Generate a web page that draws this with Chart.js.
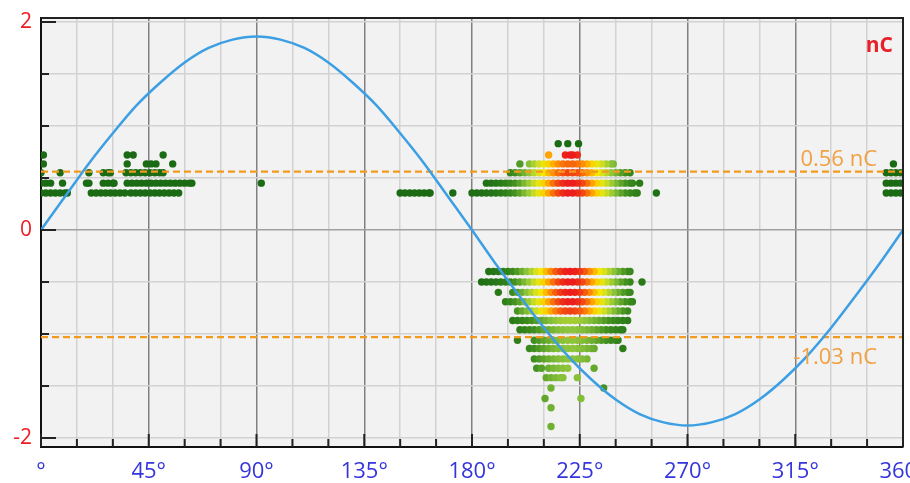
<!DOCTYPE html>
<html>
<head>
<meta charset="utf-8">
<script src="https://cdn.jsdelivr.net/npm/chart.js@4.4.1/dist/chart.umd.min.js"></script>
<style>
html,body{margin:0;padding:0;background:#fff;}
#wrap{width:910px;height:483px;}
</style>
</head>
<body>
<div id="wrap"><canvas id="prpd" width="910" height="483"></canvas></div>
<script>
// phase axis (deg)
var phaseTicks=[0,15,30,45,60,75,90,105,120,135,150,165,180,195,210,225,240,255,270,285,300,315,330,345,360];
var phaseLabels={0:'°',45:'45°',90:'90°',135:'135°',180:'180°',225:'225°',270:'270°',315:'315°',360:'360°'};
// charge axis (nC)
var chargeTicks=[-2,-1.5,-1,-0.5,0,0.5,1,1.5,2];
var chargeLabels={'2':'2','0':'0','-2':'-2'};

// reference voltage curve, read every 10 deg
var sinePhase=[0,10,20,30,40,50,60,70,80,90,100,110,120,130,140,150,160,170,180,
  190,200,210,220,230,240,250,260,270,280,290,300,310,320,330,340,350,360];
var sineCharge=[0,0.32,0.64,0.93,1.20,1.42,1.61,1.75,1.83,1.86,1.83,1.75,1.61,1.42,1.20,0.93,0.64,0.32,0,
  -0.33,-0.64,-0.94,-1.21,-1.44,-1.63,-1.77,-1.85,-1.88,-1.85,-1.77,-1.63,-1.44,-1.21,-0.94,-0.64,-0.33,0];

// threshold levels
var thresholds=[0.56,-1.03];
var thresholdLabels=['0.56 nC','-1.03 nC'];

// pulse rows: charge level, phase runs [from,to], peak density 0..1
var rowLevels=[0.83,0.72,0.635,0.55,0.45,0.355,
  -0.40,-0.50,-0.60,-0.69,-0.78,-0.87,-0.96,-1.06,-1.14,-1.24,-1.33,-1.42,-1.52,-1.62,-1.71,-1.89];
var rowRuns=[
  [[216,216],[220,220],[224.5,224.5]],
  [[1,1],[36,36],[38.5,38.5],[51,51],[212,212],[219,222],[224,224]],
  [[1,1],[36,36],[44,48],[55,55],[200,200],[204,239],[356,356]],
  [[0,0],[8,8],[20,20],[26,29],[35.5,51],[196,246],[353,359]],
  [[0,4],[9,9],[19,20],[26,30.5],[36,63],[92,92],[186,247],[250,250],[353,359]],
  [[0,11],[21,35],[37.5,57.5],[150,162.5],[172,172],[180,249],[257,257],[353,359]],
  [[187,246]],
  [[184,246],[251,251]],
  [[191,191],[197,246]],
  [[194,247]],
  [[199,245]],
  [[197,245]],
  [[200,243]],
  [[199,199],[206,241]],
  [[204,231],[243,243]],
  [[206,228]],
  [[207,209],[212,220],[231,231]],
  [[211,218],[224,224]],
  [[213,213],[235,235]],
  [[210.5,210.5],[225.5,225.5]],
  [[213,213]],
  [[213,213]]
];
var rowPeak=[0,1,0.9,0.95,1,1, 1,1,1,1,0.95,0.5,0.45,0.45,0.45,0.45,0.45,0.45,0.45,0.45,0.45,0.45];

// density colour scale
var heatStops=[[0,[27,107,20]],[0.25,[60,140,30]],[0.45,[140,196,58]],[0.6,[212,224,33]],
  [0.7,[245,232,0]],[0.82,[255,162,0]],[1,[236,28,28]]];
function heatColor(h){
  for(var i=1;i<heatStops.length;i++){
    if(h<=heatStops[i][0]){
      var a=heatStops[i-1],b=heatStops[i],t=(h-a[0])/(b[0]-a[0]);
      var c=a[1].map(function(v,j){return Math.round(v+(b[1][j]-v)*t);});
      return 'rgb('+c.join(',')+')';
    }
  }
  return 'rgb(236,28,28)';
}

function mkPulse(p,r){
  var h=rowPeak[r]*Math.exp(-Math.pow((p-221)/20,2));
  return {x:p,y:rowLevels[r],h:h};
}
var pulses=[];
for(var r=0;r<rowLevels.length;r++){
  for(var k=0;k<rowRuns[r].length;k++){
    var a=rowRuns[r][k][0],b=rowRuns[r][k][1];
    for(var p=a;p<b;p+=2) pulses.push(mkPulse(p,r));
    pulses.push(mkPulse(b,r));
  }
}
pulses.sort(function(u,v){return u.h-v.h;});

var sineData=sinePhase.map(function(p,i){return {x:p,y:sineCharge[i]};});

var datasets=[{
  label:'sine',data:sineData,showLine:true,pointRadius:0,borderColor:'#3d9fe3',borderWidth:2.5,
  cubicInterpolationMode:'monotone',order:0
}];
thresholds.forEach(function(t){
  datasets.push({label:'thr',data:[{x:0,y:t},{x:360,y:t}],showLine:true,pointRadius:0,
    borderColor:'#f39a1e',borderWidth:2.2,borderDash:[7,4],order:1});
});
datasets.push({label:'pulses',data:pulses,pointRadius:3.7,borderWidth:0,order:2,
  backgroundColor:function(ctx){return ctx.raw?heatColor(ctx.raw.h):'#1b6b14';}});

var frame={
  id:'frame',
  beforeDraw:function(c){
    var a=c.chartArea,g=c.ctx;
    g.save();g.fillStyle='#f2f2f2';g.fillRect(a.left,a.top,a.right-a.left,a.bottom-a.top);g.restore();
  },
  afterDraw:function(c){
    var a=c.chartArea,g=c.ctx,xs=c.scales.x,ys=c.scales.y;
    g.save();
    g.strokeStyle='#222';g.lineWidth=2;
    g.beginPath();
    g.moveTo(a.left,a.top);g.lineTo(a.right,a.top);g.lineTo(a.right,a.bottom);
    chargeTicks.forEach(function(v){
      var y=ys.getPixelForValue(v);
      g.moveTo(a.left,y);g.lineTo(a.left+(v%1===0&&v%2===0?15:8),y);
    });
    phaseTicks.forEach(function(v){
      var x=xs.getPixelForValue(v);
      g.moveTo(x,a.bottom);g.lineTo(x,a.bottom-(v%45===0?13:8));
    });
    g.stroke();
    g.fillStyle='#e8202a';g.font='bold 21px "Open Sans"';g.textAlign='right';
    g.fillText('nC',893,52);
    g.fillStyle='#f0a040';g.font='22px "Open Sans"';
    g.fillText(thresholdLabels[0],877,ys.getPixelForValue(thresholds[0])-6);
    g.fillText(thresholdLabels[1],877,ys.getPixelForValue(thresholds[1])+27);
    g.restore();
  }
};

new Chart(document.getElementById('prpd'),{
  type:'scatter',
  data:{datasets:datasets},
  plugins:[frame],
  options:{
    responsive:false,animation:false,
    layout:{padding:{top:18,right:7,left:0,bottom:0}},
    plugins:{legend:{display:false},tooltip:{enabled:false}},
    scales:{
      x:{
        type:'linear',min:0,max:360,
        afterBuildTicks:function(s){s.ticks=phaseTicks.map(function(v){return {value:v};});},
        afterFit:function(s){s.height=36;s.paddingLeft=0;s.paddingRight=0;},
        grid:{drawTicks:false,
          color:function(ctx){return ctx.tick&&ctx.tick.value%45===0?'#808080':'#d2d2d2';},
          lineWidth:1.5},
        border:{display:true,color:'#111',width:2},
        ticks:{autoSkip:false,maxRotation:0,minRotation:0,padding:12,color:'#3535dc',
          font:{family:'Open Sans',size:22},
          callback:function(v){return phaseLabels[v]||'';}}
      },
      y:{
        type:'linear',min:-2.087,max:2.038,
        afterBuildTicks:function(s){s.ticks=chargeTicks.map(function(v){return {value:v};});},
        afterFit:function(s){s.width=41;s.paddingTop=0;s.paddingBottom=0;},
        grid:{drawTicks:false,
          color:function(ctx){return ctx.tick&&ctx.tick.value===0?'#a0a0a0':'#d2d2d2';},
          lineWidth:1.5},
        border:{display:true,color:'#111',width:2},
        ticks:{autoSkip:false,padding:9,color:'#ee1c25',
          font:{family:'Open Sans',size:21},
          callback:function(v){return chargeLabels[String(v)]||'';}}
      }
    }
  }
});
</script>
</body>
</html>
